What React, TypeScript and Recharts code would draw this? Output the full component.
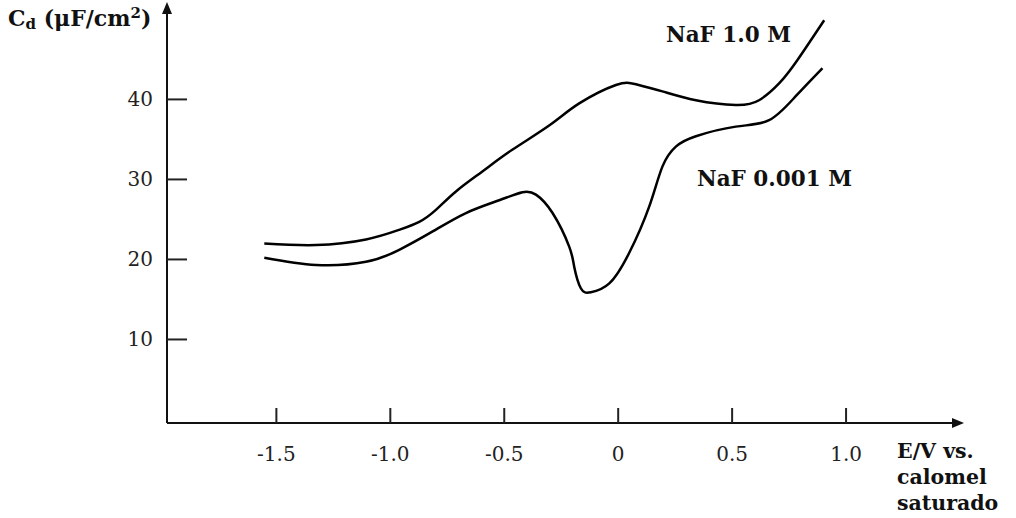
import React from 'react';
import { LineChart, Line, XAxis, YAxis, ReferenceDot, Label } from 'recharts';

// NaF 1.0 M
const naf1E = [-1.553, -1.326, -1.107, -0.961, -0.873, -0.8, -0.712, -0.596, -0.465, -0.3, -0.171, -0.01, 0.078, 0.194, 0.341, 0.516, 0.618, 0.706, 0.786, 0.904];
const naf1C = [22.0, 21.8, 22.5, 23.7, 24.7, 26.2, 28.5, 31.0, 33.7, 36.8, 39.5, 41.8, 41.9, 41.0, 39.9, 39.3, 39.9, 42.0, 44.9, 49.9];

// NaF 0.001 M
const naf2E = [-1.553, -1.326, -1.107, -0.961, -0.814, -0.668, -0.522, -0.42, -0.361, -0.288, -0.215, -0.193, -0.164, -0.12, -0.039, 0.048, 0.136, 0.194, 0.253, 0.341, 0.516, 0.662, 0.779, 0.896];
const naf2C = [20.2, 19.3, 19.7, 21.2, 23.5, 25.8, 27.4, 28.4, 28.1, 25.8, 21.6, 19.1, 16.4, 15.9, 17.0, 20.8, 26.6, 31.6, 34.1, 35.4, 36.6, 37.4, 40.4, 43.9];

const xTicks = [-1.5, -1.0, -0.5, 0, 0.5, 1.0];
const xTickLabels = ['-1.5', '-1.0', '-0.5', '0', '0.5', '1.0'];
const yTicks = [10, 20, 30, 40];
const yTickLabels = ['10', '20', '30', '40'];

const series1 = naf1E.map((e, i) => ({ e, c: naf1C[i] }));
const series2 = naf2E.map((e, i) => ({ e, c: naf2C[i] }));

const X_DOMAIN: [number, number] = [-1.98, 1.5];
const Y_DOMAIN: [number, number] = [-0.44, 51.8];

const FONT = '"DejaVu Serif", serif';

const YTick = (props: any) => {
  const { x, y, payload } = props;
  const idx = yTicks.indexOf(payload.value);
  return (
    <g>
      <line x1={x + 14} x2={x + 34} y1={y} y2={y} stroke="#222" strokeWidth={2} />
      <text x={x} y={y + 7} textAnchor="end" fontFamily={FONT} fontSize={20} fill="#222">
        {yTickLabels[idx]}
      </text>
    </g>
  );
};

const XTick = (props: any) => {
  const { x, y, payload } = props;
  const idx = xTicks.indexOf(payload.value);
  return (
    <g>
      <line x1={x} x2={x} y1={y} y2={y - 15} stroke="#222" strokeWidth={2} />
      <text x={x} y={y + 38} textAnchor="middle" fontFamily={FONT} fontSize={20} fill="#222">
        {xTickLabels[idx]}
      </text>
    </g>
  );
};

const ArrowRight = (props: any) => {
  const { cx, cy } = props;
  return <path d={`M${cx + 4},${cy} L${cx - 8},${cy - 5} L${cx - 8},${cy + 5} Z`} fill="#111" />;
};

const ArrowUp = (props: any) => {
  const { cx, cy } = props;
  return <path d={`M${cx},${cy - 3} L${cx - 5},${cy + 9} L${cx + 5},${cy + 9} Z`} fill="#111" />;
};

const curveLabel = (txt: string) => (p: any) => {
  const vb = p.viewBox || {};
  const cx = vb.cx != null ? vb.cx : (vb.x || 0) + (vb.width || 0) / 2;
  const cy = vb.cy != null ? vb.cy : (vb.y || 0) + (vb.height || 0) / 2;
  return (
    <text x={cx} y={cy} fontFamily={FONT} fontSize={21.5} fontWeight="bold" fill="#111">
      {txt}
    </text>
  );
};

export default function App() {
  return (
    <div style={{ position: 'absolute', left: 0, top: 0, width: 1016, height: 518, background: '#fff' }}>
      <LineChart width={1016} height={518} margin={{ top: 5, right: 56, bottom: 65, left: 107 }}>
        <XAxis
          type="number"
          dataKey="e"
          domain={X_DOMAIN}
          ticks={xTicks}
          allowDataOverflow
          height={30}
          tickSize={0}
          tickMargin={0}
          tickLine={false}
          axisLine={{ stroke: '#111', strokeWidth: 2 }}
          tick={<XTick />}
        >
          <Label
            content={() => (
              <text fontFamily={FONT} fontSize={20.5} fontWeight="bold" fill="#111">
                <tspan x={897} y={458}>E/V vs.</tspan>
                <tspan x={897} y={484}>calomel</tspan>
                <tspan x={897} y={510}>saturado</tspan>
              </text>
            )}
          />
        </XAxis>
        <YAxis
          type="number"
          dataKey="c"
          domain={Y_DOMAIN}
          ticks={yTicks}
          allowDataOverflow
          width={60}
          tickSize={14}
          tickMargin={0}
          tickLine={false}
          axisLine={{ stroke: '#111', strokeWidth: 2 }}
          tick={<YTick />}
        >
          <Label
            content={() => (
              <text x={8} y={26} fontFamily={FONT} fontSize={22} fontWeight="bold" fill="#111">
                C<tspan fontSize={15} dy={3}>d</tspan>
                <tspan dy={-3}> (μF/cm</tspan>
                <tspan fontSize={15} dy={-8}>2</tspan>
                <tspan dy={8}>)</tspan>
              </text>
            )}
          />
        </YAxis>
        <Line
          data={series1}
          dataKey="c"
          type="natural"
          stroke="#000"
          strokeWidth={2.5}
          dot={false}
          isAnimationActive={false}
        />
        <Line
          data={series2}
          dataKey="c"
          type="natural"
          stroke="#000"
          strokeWidth={2.5}
          dot={false}
          isAnimationActive={false}
        />
        <ReferenceDot x={0.21} y={47.2} r={0} ifOverflow="visible" label={curveLabel('NaF 1.0 M')} />
        <ReferenceDot x={0.346} y={29.2} r={0} ifOverflow="visible" label={curveLabel('NaF 0.001 M')} />
        <ReferenceDot x={X_DOMAIN[1]} y={Y_DOMAIN[0]} ifOverflow="visible" shape={<ArrowRight />} />
        <ReferenceDot x={X_DOMAIN[0]} y={Y_DOMAIN[1]} ifOverflow="visible" shape={<ArrowUp />} />
      </LineChart>
    </div>
  );
}
